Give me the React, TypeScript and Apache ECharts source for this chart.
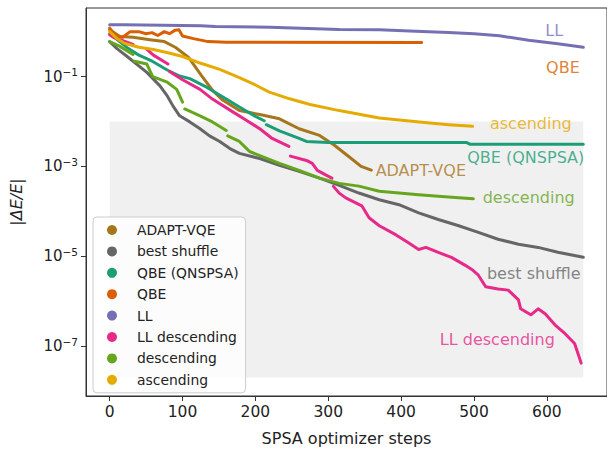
import React, { useEffect, useRef } from "react";
import * as echarts from "echarts";

// ---------- data (x = SPSA step, y = |ΔE/E|; null = gap in the dotted trace) ----------
const seriesNames = [
  "ADAPT-VQE",
  "best shuffle",
  "QBE (QNSPSA)",
  "QBE",
  "LL",
  "LL descending",
  "descending",
  "ascending",
];

const xTickValues = [0, 100, 200, 300, 400, 500, 600];
const yTickDecades = [-7, -5, -3, -1];

const adaptVqe: [number, number | null][] = [
  [0, 1.1], [14, 0.78], [32, 0.75], [55, 0.66], [75, 0.6], [90, 0.45], [108, 0.27],
  [126, 0.105], [141, 0.05], [155, 0.03], [178, 0.0175], [206, 0.0143], [233, 0.0115],
  [260, 0.0069], [288, 0.0049], [308, 0.003], [328, 0.00167], [345, 0.001], [359, 0.00083],
];

const bestShuffle: [number, number | null][] = [
  [0, 0.6], [10, 0.42], [24, 0.28], [51, 0.124], [69, 0.062], [79, 0.037], [87, 0.022],
  [96, 0.0134], [110, 0.0098], [124, 0.0069], [137, 0.0048], [151, 0.0036], [165, 0.0025],
  [178, 0.00195], [206, 0.0015], [233, 0.00106], [260, 0.00078], [288, 0.00055],
  [315, 0.00038], [342, 0.000256], [370, 0.000182], [397, 0.000141], [424, 9.3e-5],
  [451, 6.6e-5], [479, 4.8e-5], [506, 3.4e-5], [533, 2.4e-5], [561, 1.86e-5],
  [588, 1.58e-5], [615, 1.23e-5], [650, 9.5e-6],
];

const qbeQnspsa: [number, number | null][] = [
  [0, 0.9], [24, 0.44], [40, 0.3], [59, 0.217], [79, 0.14], [96, 0.103], [110, 0.09],
  [133, 0.058], [160, 0.0316], [178, 0.021], [200, 0.013], [212, 0.0104], [213, null],
  [215, 0.0085], [233, 0.0062], [260, 0.0042], [270, 0.0036], [300, 0.0034],
  [490, 0.0034], [495, 0.0031], [650, 0.0031],
];

const qbe: [number, number | null][] = [
  [0, 1.2], [8, 0.8], [18, 0.75], [28, 1.0], [40, 1.0], [50, 0.9], [58, 0.95], [66, 0.82],
  [75, 1.0], [82, 0.9], [90, 1.08], [95, 1.1], [100, 0.8], [115, 0.7], [135, 0.6],
  [160, 0.58], [428, 0.575],
];

const ll: [number, number | null][] = [
  [0, 1.42], [20, 1.42], [125, 1.35], [145, 1.3], [220, 1.25], [315, 1.12], [370, 1.1],
  [420, 1.02], [465, 0.96], [500, 0.9], [535, 0.81], [575, 0.64], [615, 0.54], [650, 0.45],
];

const llDescending: [number, number | null][] = [
  [0, 0.85], [5, 0.75], [32, 0.52], [33, null], [50, 0.42], [60, 0.3], [80, 0.19],
  [81, null], [82, 0.13], [100, 0.085], [124, 0.052], [141, 0.0316], [169, 0.0164],
  [188, 0.0105], [206, 0.0069], [223, 0.0042], [246, 0.0028], [247, null], [248, 0.0017],
  [270, 0.00136], [278, 0.00117], [285, 0.00082], [297, 0.00064], [305, 0.00055],
  [306, null], [307, 0.00036], [315, 0.000255], [324, 0.0002], [346, 0.000133],
  [356, 7.2e-5], [370, 4.8e-5], [393, 3.0e-5], [410, 2.0e-5], [424, 1.42e-5],
  [434, 1.58e-5], [451, 1.22e-5], [469, 9.5e-6], [488, 6.3e-6], [497, 5.1e-6],
  [506, 3.8e-6], [516, 2.1e-6], [533, 1.87e-6], [547, 1.77e-6], [561, 1.07e-6],
  [564, 6.8e-7], [578, 5.0e-7], [588, 6.8e-7], [598, 5.2e-7], [611, 3.0e-7],
  [625, 1.9e-7], [638, 1.15e-7], [643, 6.6e-8], [647, 4.2e-8],
];

const descending: [number, number | null][] = [
  [0, 0.6], [14, 0.47], [32, 0.31], [33, null], [34, 0.22], [51, 0.19], [59, 0.1],
  [79, 0.075], [92, 0.052], [100, 0.027], [101, null], [103, 0.019], [124, 0.0134],
  [141, 0.0098], [160, 0.0063], [161, null], [162, 0.0048], [178, 0.0036], [188, 0.0025],
  [192, 0.00215], [206, 0.00175], [233, 0.00117], [260, 0.00082], [288, 0.00055],
  [315, 0.00042], [342, 0.000365], [370, 0.00028], [397, 0.000256], [424, 0.000234],
  [451, 0.000216], [479, 0.0002], [499, 0.00019],
];

const ascending: [number, number | null][] = [
  [0, 1.0], [10, 0.7], [20, 0.55], [40, 0.45], [60, 0.4], [80, 0.34], [100, 0.28],
  [124, 0.2], [151, 0.145], [178, 0.095], [200, 0.065], [219, 0.045], [247, 0.032],
  [275, 0.024], [315, 0.0175], [370, 0.012], [425, 0.0097], [465, 0.0085], [498, 0.0078],
];

const shadedSteps = [0, 650];
const shadedValues = [1e-2, 2e-8];

// ---------- styling ----------
const FONT = "DejaVu Sans";
const colors = ["#a6761d", "#666666", "#1b9e77", "#d95f02", "#7570b3", "#e7298a", "#66a61e", "#e6ab02"];
const traces = [adaptVqe, bestShuffle, qbeQnspsa, qbe, ll, llDescending, descending, ascending];

// in-plot labels: [series index, step, log10 value]
const annotationPlaces: [number, number, number][] = [
  [0, 427, -3.08],
  [1, 582, -5.39],
  [2, 571, -2.806],
  [3, 622, -0.8],
  [4, 610, 0.026],
  [5, 532, -6.846],
  [6, 575, -3.687],
  [7, 578, -2.05],
];

const toLog = (pts: [number, number | null][]) =>
  pts.map(([s, v]) => [s, v == null ? "-" : Math.log10(v)]);

export default function App() {
  const ref = useRef<HTMLDivElement>(null);
  useEffect(() => {
    if (!ref.current) return;
    const chart = echarts.init(ref.current, undefined, { renderer: "svg" });

    const lineSeries: any[] = traces.map((pts, i) => ({
      name: seriesNames[i],
      type: "line",
      data: toLog(pts),
      showSymbol: false,
      symbol: "circle",
      connectNulls: false,
      lineStyle: { color: colors[i], width: 3, cap: "round", join: "round" },
      itemStyle: { color: colors[i] },
      z: 2 + i * 0.01,
      ...(i === 0
        ? {
            markArea: {
              silent: true,
              itemStyle: { color: "rgba(0,0,0,0.06)" },
              data: [
                [
                  { coord: [shadedSteps[0], Math.log10(shadedValues[0])] },
                  { coord: [shadedSteps[1], Math.log10(shadedValues[1])] },
                ],
              ],
            },
          }
        : {}),
    }));

    const annotationSeries = {
      type: "scatter",
      silent: true,
      symbolSize: 1,
      itemStyle: { color: "rgba(0,0,0,0)" },
      z: 6,
      data: annotationPlaces.map(([i, s, y]) => ({
        value: [s, y],
        label: {
          show: true,
          formatter: seriesNames[i],
          color: colors[i],
          position: "inside",
          fontSize: 16,
          fontFamily: FONT,
        },
      })),
    };

    const option: any = {
      animation: false,
      grid: {
        left: 86,
        top: 8,
        right: -2,
        bottom: 51,
        show: true,
        borderColor: "#333",
        borderWidth: 1,
        backgroundColor: "transparent",
      },
      legend: {
        data: seriesNames,
        orient: "vertical",
        left: 93,
        top: 217,
        icon: "circle",
        itemWidth: 10,
        itemHeight: 10,
        itemGap: 7.4,
        padding: [6, 7, 6, 14],
        selectedMode: false,
        backgroundColor: "rgba(255,255,255,0.8)",
        borderColor: "#cccccc",
        borderWidth: 1,
        borderRadius: 4,
        formatter: (name: string) => `{g|}{t|${name}}`,
        textStyle: {
          fontSize: 13.9,
          lineHeight: 14,
          color: "#222",
          fontFamily: FONT,
          rich: {
            g: { width: 15, height: 14, lineHeight: 14 },
            t: { fontSize: 13.9, lineHeight: 14, color: "#222", fontFamily: FONT },
          },
        },
      },
      xAxis: {
        type: "value",
        min: -32.5,
        max: 682.5,
        name: "SPSA optimizer steps",
        nameLocation: "middle",
        nameGap: 34,
        nameTextStyle: { fontSize: 16, color: "#222", fontFamily: FONT },
        axisLine: { show: true, onZero: false, lineStyle: { color: "#333", width: 1 } },
        axisTick: { show: true, length: 5, lineStyle: { color: "#333" }, customValues: xTickValues },
        axisLabel: { customValues: xTickValues, fontSize: 15.5, color: "#222", margin: 8, fontFamily: FONT },
        splitLine: { show: false },
      },
      yAxis: {
        type: "value",
        min: -8.108,
        max: 0.526,
        name: "{n||}{i|ΔE/E}{n||}",
        nameLocation: "middle",
        nameRotate: 90,
        nameGap: 62,
        nameTextStyle: {
          fontSize: 16,
          color: "#222",
          fontFamily: FONT,
          rich: {
            n: { fontSize: 16, color: "#222", fontFamily: FONT },
            i: { fontSize: 16, color: "#222", fontFamily: FONT, fontStyle: "italic" },
          },
        },
        axisLine: { show: true, onZero: false, lineStyle: { color: "#333", width: 1 } },
        axisTick: { show: true, length: 5, lineStyle: { color: "#333" }, customValues: yTickDecades },
        axisLabel: {
          customValues: yTickDecades,
          margin: 8,
          formatter: (v: number) => `{b|10}{s|\u2212${Math.abs(v)}}`,
          rich: {
            b: { fontSize: 15, color: "#222", fontFamily: FONT, lineHeight: 20 },
            s: { fontSize: 10.5, color: "#222", fontFamily: FONT, verticalAlign: "top", lineHeight: 11 },
          },
        },
        splitLine: { show: false },
      },
      series: [...lineSeries, annotationSeries],
    };

    chart.setOption(option);
    return () => chart.dispose();
  }, []);

  return (
    <div
      ref={ref}
      style={{ position: "fixed", left: 0, top: 0, width: 607, height: 451, background: "#fff" }}
    />
  );
}
